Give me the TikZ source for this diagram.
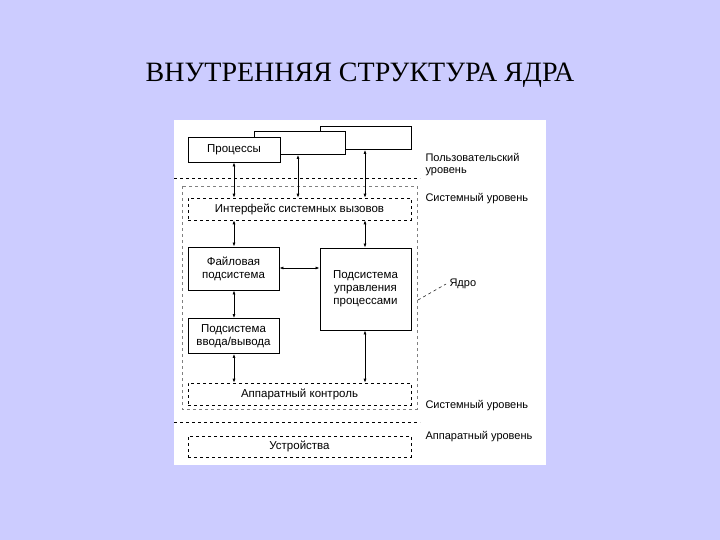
\documentclass[tikz,border=0pt]{standalone}
\usepackage{fontspec}
\setmainfont{Liberation Serif}
\newfontfamily\lsans{Liberation Sans}
\usetikzlibrary{arrows.meta}
\definecolor{bg}{RGB}{204,204,255}
\begin{document}
\begin{tikzpicture}[x=1pt,y=-1pt,
  box/.style={draw,line width=0.9pt,fill=white,align=center,font=\lsans\fontsize{11.5}{13}\selectfont,inner sep=0pt},
  dbox/.style={box,dashed,line width=0.6pt},
  lbl/.style={anchor=west,align=left,font=\lsans\fontsize{11}{12}\selectfont},
  arr/.style={{Latex[length=4pt,width=3pt]}-{Latex[length=4pt,width=3pt]},line width=0.7pt}]
\fill[bg] (0,0) rectangle (720,540);
\fill[white] (174,120) rectangle (546,465);
\node[font=\fontsize{28}{32}\selectfont] (title) at (360,75) {ВНУТРЕННЯЯ СТРУКТУРА ЯДРА};
% process boxes
\node[box,minimum width=91pt,minimum height=23pt] (p3) at (365.5,138) {};
\node[box,minimum width=91pt,minimum height=23pt] (p2) at (299.5,143) {};
\node[box,minimum width=92pt,minimum height=25pt] (p1) at (234,149.5) {Процессы};
% levels
\draw[dashed,line width=0.8pt] (174,178) -- (420,178);
\draw[dashed,line width=0.8pt] (174,422) -- (420,422);
\draw[dashed,line width=0.5pt,gray] (182,186) rectangle (417,409);
\node[dbox,minimum width=223pt,minimum height=22pt] (sci) at (299.5,209) {Интерфейс системных вызовов};
\node[box,minimum width=91pt,minimum height=43pt] (fs) at (233.5,268.5) {Файловая\\подсистема};
\node[box,minimum width=91pt,minimum height=82pt] (pm) at (365.5,289) {Подсистема\\управления\\процессами};
\node[box,minimum width=91pt,minimum height=35pt] (io) at (233.5,336) {Подсистема\\ввода/вывода};
\node[dbox,minimum width=223pt,minimum height=22pt] (hw) at (299.5,394) {Аппаратный контроль};
\node[dbox,minimum width=223pt,minimum height=21pt] (dev) at (299.5,446.5) {Устройства};
% arrows
\draw[arr] (p1.south -| 234,0) -- (sci.north -| 234,0);
\draw[arr] (p2.south -| 298,0) -- (sci.north -| 298,0);
\draw[arr] (p3.south -| 365,0) -- (sci.north -| 365,0);
\draw[arr] (sci.south -| 234,0) -- (fs.north -| 234,0);
\draw[arr] (sci.south -| 365,0) -- (pm.north -| 365,0);
\draw[arr] (fs.east |- 0,268) -- (pm.west |- 0,268);
\draw[arr] (fs.south -| 234,0) -- (io.north -| 234,0);
\draw[arr] (io.south -| 234,0) -- (hw.north -| 234,0);
\draw[arr] (pm.south -| 365,0) -- (hw.north -| 365,0);
% labels
\node[lbl] (l1) at (422,165) {Пользовательский\\уровень};
\node[lbl] (l2) at (422,199) {Системный уровень};
\node[lbl] (l3) at (446,284) {Ядро};
\coordinate (kc) at (418,300);
\draw[dashed,line width=0.5pt] (kc) -- (l3.west);
\node[lbl] (l4) at (422,406) {Системный уровень};
\node[lbl] (l5) at (422,437) {Аппаратный уровень};
\end{tikzpicture}
\end{document}
